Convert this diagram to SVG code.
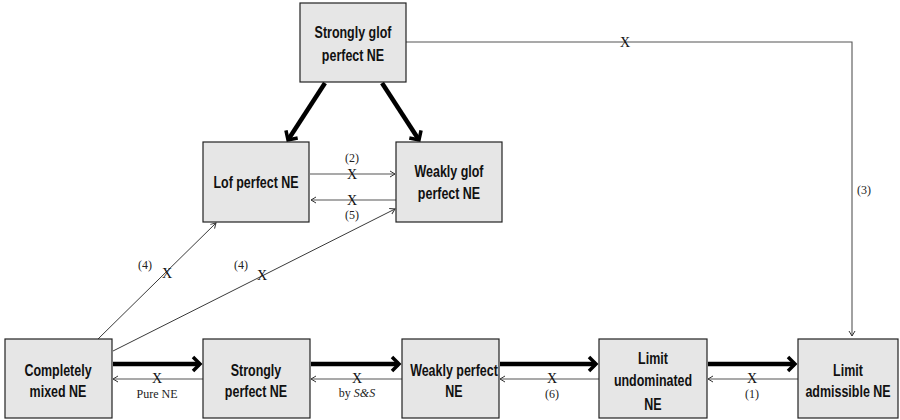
<svg xmlns="http://www.w3.org/2000/svg" width="900" height="420" viewBox="0 0 900 420">
<defs>
<style>
.box{fill:#e6e6e6;stroke:#222;stroke-width:1.2}
.nt{font-family:"Liberation Sans",Arial,sans-serif;font-weight:bold;font-size:16px;fill:#111;text-anchor:middle}
.thin{stroke:#555;stroke-width:1.1;fill:none}
.diag{stroke:#222;stroke-width:0.9;fill:none}
.thick{stroke:#000;stroke-width:4.5;fill:none}
.lb{font-family:"Liberation Serif",serif;font-size:12px;fill:#222;text-anchor:middle}
.x{font-family:"Liberation Serif",serif;font-size:14px;fill:#111;text-anchor:middle}
</style>
<marker id="ah" markerWidth="8" markerHeight="8" refX="6" refY="4" orient="auto" markerUnits="userSpaceOnUse">
<path d="M1,1 L6,4 L1,7" fill="none" stroke="#333" stroke-width="1"/>
</marker>
<marker id="th" markerWidth="14" markerHeight="18" refX="10" refY="9" orient="auto" markerUnits="userSpaceOnUse">
<path d="M3,2 L10,9 L3,16" fill="none" stroke="#000" stroke-width="3.5" stroke-linejoin="miter"/>
</marker>
</defs>
<rect width="900" height="420" fill="#fff"/>
<g id="connectors">
<path class="thick" d="M325,83 L288,140" marker-end="url(#th)"/>
<path class="thick" d="M382,83 L419,140" marker-end="url(#th)"/>
<path class="thin" d="M406,42 L852,42 L852,336" marker-end="url(#ah)"/>
<text class="x" x="625" y="47">X</text>
<text class="lb" x="864" y="194">(3)</text>
<path class="thin" d="M310,174 L395,174" marker-end="url(#ah)"/>
<text class="lb" x="352" y="162">(2)</text>
<text class="x" x="352" y="179">X</text>
<path class="thin" d="M396,200 L311,200" marker-end="url(#ah)"/>
<text class="x" x="352" y="205">X</text>
<text class="lb" x="352" y="219">(5)</text>
<path class="diag" d="M98,339 L216,223" marker-end="url(#ah)"/>
<text class="lb" x="145" y="269">(4)</text>
<text class="x" x="167" y="278">X</text>
<path class="diag" d="M113,351 L395,209" marker-end="url(#ah)"/>
<text class="lb" x="241" y="269">(4)</text>
<text class="x" x="262" y="280">X</text>
<path class="thick" d="M113,364 L200,364" marker-end="url(#th)"/>
<path class="thin" d="M203,379 L113,379" marker-end="url(#ah)"/>
<text class="x" x="157" y="383">X</text>
<text class="lb" x="157" y="398">Pure NE</text>
<path class="thick" d="M311,364 L399,364" marker-end="url(#th)"/>
<path class="thin" d="M402,379 L311,379" marker-end="url(#ah)"/>
<text class="x" x="357" y="383">X</text>
<text class="lb" x="357" y="397">by <tspan font-style="italic">S&amp;S</tspan></text>
<path class="thick" d="M500,364 L596,364" marker-end="url(#th)"/>
<path class="thin" d="M599,379 L500,379" marker-end="url(#ah)"/>
<text class="x" x="552" y="383">X</text>
<text class="lb" x="552" y="398">(6)</text>
<path class="thick" d="M708,364 L795,364" marker-end="url(#th)"/>
<path class="thin" d="M798,379 L708,379" marker-end="url(#ah)"/>
<text class="x" x="752" y="383">X</text>
<text class="lb" x="752" y="398">(1)</text>
</g>
<g id="strongly-glof">
<rect class="box" x="300" y="3" width="106" height="79"/>
<text class="nt" transform="translate(353,38) scale(0.78,1)">Strongly glof</text>
<text class="nt" transform="translate(353,61) scale(0.78,1)">perfect NE</text>
</g>
<g id="lof">
<rect class="box" x="203" y="142" width="106" height="80"/>
<text class="nt" transform="translate(256,188) scale(0.78,1)">Lof perfect NE</text>
</g>
<g id="weakly-glof">
<rect class="box" x="396" y="142" width="106" height="80"/>
<text class="nt" transform="translate(449,177) scale(0.78,1)">Weakly glof</text>
<text class="nt" transform="translate(449,199) scale(0.78,1)">perfect NE</text>
</g>
<g id="completely-mixed">
<rect class="box" x="5" y="339" width="107" height="79"/>
<text class="nt" transform="translate(58,376) scale(0.78,1)">Completely</text>
<text class="nt" transform="translate(58,397) scale(0.78,1)">mixed NE</text>
</g>
<g id="strongly-perfect">
<rect class="box" x="203" y="339" width="107" height="79"/>
<text class="nt" transform="translate(256,376) scale(0.78,1)">Strongly</text>
<text class="nt" transform="translate(256,397) scale(0.78,1)">perfect NE</text>
</g>
<g id="weakly-perfect">
<rect class="box" x="402" y="339" width="97" height="79"/>
<text class="nt" transform="translate(454,376) scale(0.78,1)">Weakly perfect</text>
<text class="nt" transform="translate(454,397) scale(0.78,1)">NE</text>
</g>
<g id="limit-undominated">
<rect class="box" x="599" y="339" width="108" height="79"/>
<text class="nt" transform="translate(653,364) scale(0.78,1)">Limit</text>
<text class="nt" transform="translate(653,386) scale(0.78,1)">undominated</text>
<text class="nt" transform="translate(653,410) scale(0.78,1)">NE</text>
</g>
<g id="limit-admissible">
<rect class="box" x="798" y="339" width="100" height="79"/>
<text class="nt" transform="translate(848,376) scale(0.78,1)">Limit</text>
<text class="nt" transform="translate(848,397) scale(0.78,1)">admissible NE</text>
</g>
</svg>
